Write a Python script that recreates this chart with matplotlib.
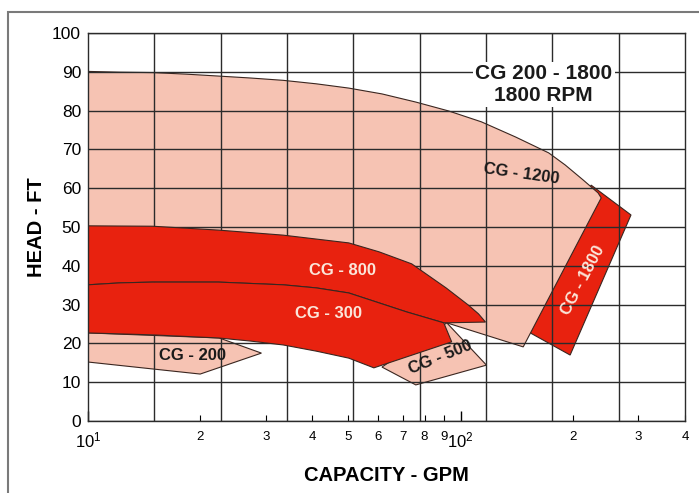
import matplotlib.pyplot as plt
from matplotlib.patches import Polygon, Rectangle

plt.rcParams['font.family'] = ['Liberation Sans', 'DejaVu Sans']
plt.rcParams['mathtext.fontset'] = 'custom'
plt.rcParams['mathtext.rm'] = 'Liberation Sans'
plt.rcParams['mathtext.it'] = 'Liberation Sans'

# capacity (GPM) / head (FT) outlines
cg1200_q = [10, 12.2, 14.9, 18.3, 22.4, 27.3, 33.4, 41.0, 50.1, 61.5, 75.8, 92.9,
            113.7, 140.4, 172.3, 190.7, 213.3, 233.7, 238.3, 147.2, 91.8, 60, 10]
cg1200_h = [90.1, 89.9, 89.8, 89.4, 88.9, 88.4, 87.8, 86.9, 85.8, 84.3, 82.2, 79.9,
            77.1, 73.2, 69.1, 66.0, 62.1, 58.8, 57.5, 19.1, 25.3, 30, 30]

cg1800_q = [223.9, 286.5, 196.7, 153.8]
cg1800_h = [60.8, 53.1, 17.0, 22.7]

cg800_top_q = [10, 14.9, 22.4, 33.4, 50.1, 60.4, 73.9, 91.4, 104.8, 111.7, 116.6]
cg800_top_h = [50.3, 50.2, 49.2, 47.9, 45.9, 43.6, 40.5, 34.3, 29.9, 27.6, 25.5]

# line between CG-800 and CG-300
split_q = [10, 12.2, 14.9, 22.4, 33.4, 41.0, 50.1, 71.7, 90.1]
split_h = [35.1, 35.6, 35.8, 35.8, 35.1, 34.3, 33.0, 28.1, 25.3]

cg300_bot_q = [94.6, 58.5, 50.1, 41.0, 33.4, 27.3, 22.4, 14.9, 10]
cg300_bot_h = [20.4, 13.7, 16.2, 18.0, 19.6, 20.6, 21.4, 22.2, 22.7]

cg500_q = [91.8, 117.3, 75.8, 61.5]
cg500_h = [25.3, 14.4, 9.3, 13.9]

cg200_q = [10, 22.5, 29.2, 20.0, 10]
cg200_h = [22.7, 21.4, 17.5, 12.1, 15.2]

# labels: text, q, h, rotation, on red?
labels = [
    ('CG - 800', 48.1, 38.7, 0, True),
    ('CG - 300', 44.2, 27.8, 0, True),
    ('CG - 200', 19.1, 17.0, 0, False),
    ('CG - 500', 88.5, 16.3, 22, False),
    ('CG - 1200', 145.7, 63.7, -8, False),
    ('CG - 1800', 212.7, 36.3, 62, True),
]

major_q = [10, 100]
major_lab = ['$10^1$', '$10^2$']
minor_q = [20, 30, 40, 50, 60, 70, 80, 90, 200, 300, 400]
minor_lab = ['2', '3', '4', '5', '6', '7', '8', '9', '2', '3', '4']

pink = '#f6c3b3'
red = '#e8220f'
edge = '#3a2620'
light_txt = '#fbe6da'

fig = plt.figure(figsize=(6.99, 4.93), dpi=100)
ax = fig.add_axes([88 / 699, 1 - 421 / 493, (685 - 88) / 699, 388 / 493])
ax.set_xscale('log')
ax.set_xlim(10, 400)
ax.set_ylim(0, 100)

def poly(q, h, color, z):
    ax.add_patch(Polygon(list(zip(q, h)), closed=True, facecolor=color,
                         edgecolor=edge, linewidth=0.8, zorder=z))

poly(cg1800_q, cg1800_h, red, 1)
poly(cg1200_q, cg1200_h, pink, 1.2)
poly(cg200_q, cg200_h, pink, 1.2)
poly(cg500_q, cg500_h, pink, 1.2)
poly(cg800_top_q + split_q[::-1], cg800_top_h + split_h[::-1], red, 3)
poly(split_q + cg300_bot_q, split_h + cg300_bot_h, red, 3)

# printed grid: horizontal at every 10 ft, vertical evenly spaced
ax.set_yticks(range(0, 101, 10))
ax.grid(axis='y', color='#2b2b2b', linewidth=1.0, zorder=2)
ax.set_axisbelow(False)
for k in range(1, 9):
    ax.plot([k / 9, k / 9], [0, 1], transform=ax.transAxes,
            color='#2b2b2b', linewidth=1.0, zorder=2)

for txt, q, h, rot, on_red in labels:
    ax.text(q, h, txt, rotation=rot, ha='center', va='center', fontsize=12,
            fontweight='bold', color=light_txt if on_red else '#1a1a1a',
            rotation_mode='anchor', zorder=6)

ax.text(167, 86.7, 'CG 200 - 1800\n1800 RPM', ha='center', va='center',
        fontsize=15, fontweight='bold', color='#1a1a1a', linespacing=1.15,
        bbox=dict(boxstyle='square,pad=0.12', facecolor='white', edgecolor='none'),
        zorder=6)

ax.set_xticks(major_q)
ax.set_xticklabels(major_lab, fontsize=12)
ax.set_xticks(minor_q, minor=True)
ax.set_xticklabels(minor_lab, minor=True, fontsize=9.5)
ax.tick_params(axis='x', which='major', direction='in', length=7, width=1, pad=7)
ax.tick_params(axis='x', which='minor', direction='in', length=4, width=0.8, pad=7)
ax.tick_params(axis='y', length=0, labelsize=12.5, pad=5)

for s in ax.spines.values():
    s.set_color('#2b2b2b')
    s.set_linewidth(1.0)
    s.set_zorder(4)

ax.set_xlabel('CAPACITY - GPM', fontsize=14.5, fontweight='bold', labelpad=11)
ax.set_ylabel('HEAD - FT', fontsize=14.5, fontweight='bold', labelpad=4)

fig.patches.append(Rectangle((8 / 699, -0.05), 1.2, (493 - 12) / 493 + 0.05,
                             transform=fig.transFigure, fill=False,
                             edgecolor='#7a7a7a', linewidth=1.5))

fig.savefig('out.png', dpi=100)
